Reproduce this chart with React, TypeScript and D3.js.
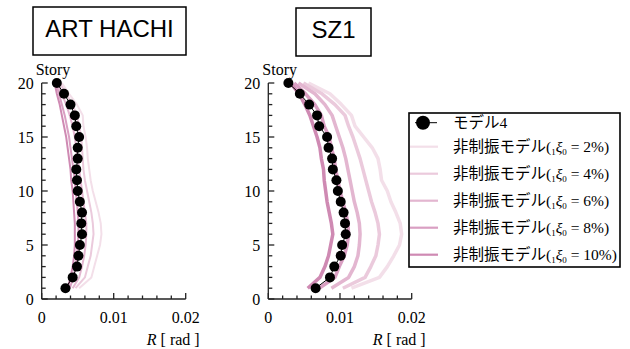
import * as React from "react";
import * as d3 from "d3";

const stories = [1, 2, 3, 4, 5, 6, 7, 8, 9, 10, 11, 12, 13, 14, 15, 16, 17, 18, 19, 20];

// ART HACHI (story 1 -> 20)
const hachiModel4 = [0.0033, 0.0043, 0.0049, 0.0051, 0.0053, 0.0056, 0.0055, 0.0056, 0.0053, 0.005, 0.0049, 0.0048, 0.005, 0.005, 0.0052, 0.0048, 0.0046, 0.004, 0.0031, 0.0021];
const hachi2 = [0.0052, 0.0069, 0.0073, 0.0077, 0.0081, 0.0083, 0.0082, 0.0079, 0.0075, 0.0071, 0.0068, 0.0066, 0.0064, 0.0063, 0.0061, 0.0058, 0.0057, 0.0049, 0.0038, 0.0028];
const hachi4 = [0.0047, 0.006, 0.0064, 0.0068, 0.007, 0.0072, 0.0071, 0.0069, 0.0066, 0.0063, 0.006, 0.0058, 0.0057, 0.0056, 0.0055, 0.0052, 0.0049, 0.0043, 0.0034, 0.0025];
const hachi6 = [0.0043, 0.0052, 0.0056, 0.0059, 0.0061, 0.0062, 0.0062, 0.006, 0.0058, 0.0056, 0.0054, 0.0052, 0.005, 0.0048, 0.0046, 0.0043, 0.0039, 0.0034, 0.0028, 0.0022];
const hachi8 = [0.0039, 0.0044, 0.0047, 0.0049, 0.005, 0.0051, 0.0051, 0.005, 0.0049, 0.0047, 0.0046, 0.0044, 0.0042, 0.004, 0.0038, 0.0035, 0.0032, 0.0028, 0.0024, 0.002];
const hachi10 = [0.0036, 0.004, 0.0043, 0.0045, 0.0046, 0.0046, 0.0046, 0.0045, 0.0044, 0.0043, 0.0041, 0.004, 0.0038, 0.0036, 0.0034, 0.0031, 0.0028, 0.0025, 0.0021, 0.0018];

// SZ1 (story 1 -> 20)
const szModel4 = [0.0066, 0.0086, 0.0092, 0.0101, 0.0103, 0.0108, 0.0107, 0.0105, 0.0101, 0.0097, 0.0095, 0.009, 0.0089, 0.0084, 0.0082, 0.0071, 0.0068, 0.0057, 0.0044, 0.0028];
const sz2 = [0.0116, 0.0155, 0.0166, 0.0175, 0.0183, 0.0186, 0.0184, 0.0178, 0.0171, 0.0166, 0.0158, 0.0156, 0.0153, 0.0145, 0.0133, 0.0121, 0.0116, 0.0102, 0.0086, 0.0056];
const sz4 = [0.0104, 0.0135, 0.0143, 0.015, 0.0153, 0.0155, 0.0153, 0.0149, 0.0144, 0.014, 0.0136, 0.0132, 0.0128, 0.0123, 0.0118, 0.0112, 0.0107, 0.0093, 0.0075, 0.0049];
const sz6 = [0.0088, 0.0112, 0.012, 0.0125, 0.0127, 0.0128, 0.0127, 0.0124, 0.012, 0.0117, 0.0114, 0.0111, 0.0108, 0.0104, 0.0099, 0.0094, 0.0089, 0.0079, 0.0065, 0.0042];
const sz8 = [0.0071, 0.0093, 0.0099, 0.0106, 0.011, 0.0112, 0.0111, 0.0108, 0.0104, 0.01, 0.0097, 0.0094, 0.0092, 0.0088, 0.0085, 0.0078, 0.0074, 0.0065, 0.0052, 0.0036];
const sz10 = [0.0055, 0.0072, 0.0079, 0.0084, 0.0087, 0.009, 0.0088, 0.0085, 0.0082, 0.008, 0.0078, 0.0077, 0.0074, 0.0072, 0.0068, 0.0063, 0.0058, 0.0051, 0.0043, 0.0031];

const dampLabels = ["2%", "4%", "6%", "8%", "10%"];
const dampColors = ["#f3dfe9", "#ebcadc", "#e3b6d0", "#d99fc2", "#cf8ab3"];
const xTickLabels = ["0", "0.01", "0.02"];
const yTickLabels = ["0", "5", "10", "15", "20"];

const serif = "Liberation Serif, DejaVu Serif, serif";
const sans = "Liberation Sans, Arial, sans-serif";

interface PanelProps {
  title: string;
  titleBox: [number, number, number, number];
  x0: number;
  x1: number;
  model: number[];
  series: number[][];
  lineWidth: number;
}

const Panel: React.FC<PanelProps> = ({ title, titleBox, x0, x1, model, series, lineWidth }) => {
  const x = d3.scaleLinear().domain([0, 0.02]).range([x0, x1]);
  const y = d3.scaleLinear().domain([0, 20]).range([299, 83]);

  const line = d3
    .line<number>()
    .x((d) => x(d))
    .y((d, i) => y(stories[i]));

  const minorX = d3.range(0, 0.02001, 0.002);
  const minorY = d3.range(0, 21, 1);
  const [bx, by, bw, bh] = titleBox;

  return (
    <g>
      <rect x={bx} y={by} width={bw} height={bh} fill="white" stroke="black" strokeWidth={1.5} />
      <text x={bx + bw / 2} y={by + 30} textAnchor="middle" style={{ fontFamily: sans, fontSize: 24 }}>
        {title}
      </text>

      {/* series, lightest first */}
      {series.map((s, k) => (
        <path key={k} d={line(s) || undefined} fill="none" stroke={dampColors[k]} strokeWidth={lineWidth} strokeLinejoin="round" />
      ))}

      {/* model 4 */}
      <path d={line(model) || undefined} fill="none" stroke="black" strokeWidth={1} />
      {model.map((d, i) => (
        <circle key={i} cx={x(d)} cy={y(stories[i])} r={5} fill="black" />
      ))}

      {/* axes */}
      <g stroke="#222" strokeWidth={1.3}>
        <line x1={x(0)} x2={x(0.02)} y1={y(0)} y2={y(0)} />
        <line x1={x(0)} x2={x(0)} y1={y(0)} y2={y(20)} />
        {minorX.map((t, i) => (
          <line key={"mx" + i} x1={x(t)} x2={x(t)} y1={y(0)} y2={y(0) - (i % 5 === 0 ? 6 : 3.5)} />
        ))}
        {minorY.map((t, i) => (
          <line key={"my" + i} x1={x(0)} x2={x(0) + (i % 5 === 0 ? 6 : 4)} y1={y(t)} y2={y(t)} />
        ))}
      </g>
      <g style={{ fontFamily: serif, fontSize: 16 }} fill="black">
        {xTickLabels.map((t) => (
          <text key={t} x={x(+t)} y={323} textAnchor="middle">
            {t}
          </text>
        ))}
        {yTickLabels.map((t) => (
          <text key={t} x={x(0) - 8} y={y(+t) + 5.5} textAnchor="end">
            {t}
          </text>
        ))}
        <text x={x(0) - 6} y={75}>Story</text>
        <text x={x(0.02) + 14} y={345} textAnchor="end">
          <tspan fontStyle="italic">R</tspan> [ rad ]
        </text>
      </g>
    </g>
  );
};

const Legend: React.FC = () => {
  const rows = [146.7, 173.7, 200.7, 227.7, 254.7];
  const jp = "Liberation Serif, Noto Sans CJK JP, serif";
  return (
    <g style={{ fontFamily: jp, fontSize: 15.5 }}>
      <rect x={409} y={113} width={211} height={154} fill="white" stroke="black" strokeWidth={1.6} />
      <line x1={415} x2={437} y1={122.7} y2={122.7} stroke="black" strokeWidth={1} />
      <circle cx={423} cy={122.7} r={7} fill="black" />
      <text x={453} y={128}>モデル4</text>
      {dampLabels.map((lab, k) => (
        <g key={lab}>
          <line x1={410} x2={438} y1={rows[k]} y2={rows[k]} stroke={dampColors[k]} strokeWidth={2.2} />
          <text x={453} y={rows[k] + 5.5}>
            非制振モデル(
            <tspan style={{ fontSize: 9 }} dy={3}>1</tspan>
            <tspan dy={-3} fontStyle="italic">ξ</tspan>
            <tspan style={{ fontSize: 9 }} dy={3}>0</tspan>
            <tspan dy={-3}>{" = " + lab + ")"}</tspan>
          </text>
        </g>
      ))}
    </g>
  );
};

export default function App() {
  return (
    <svg width={630} height={349} style={{ position: "absolute", left: 0, top: 0, background: "white" }}>
      <Panel
        title="ART HACHI"
        titleBox={[33, 7, 153, 48]}
        x0={41.7}
        x1={185.7}
        model={hachiModel4}
        series={[hachi2, hachi4, hachi6, hachi8, hachi10]}
        lineWidth={2}
      />
      <Panel
        title="SZ1"
        titleBox={[296, 8, 75, 48]}
        x0={268.3}
        x1={411.7}
        model={szModel4}
        series={[sz2, sz4, sz6, sz8, sz10]}
        lineWidth={3.5}
      />
      <Legend />
    </svg>
  );
}
